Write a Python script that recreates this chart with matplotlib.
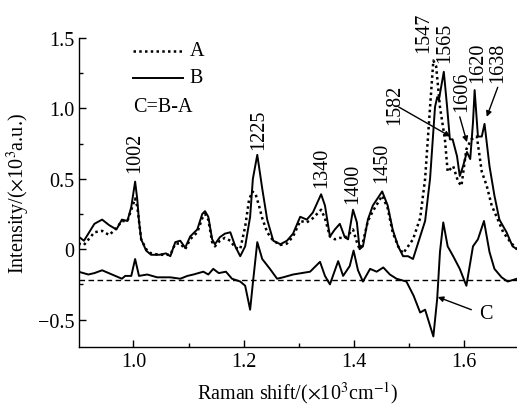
import numpy as np
import matplotlib
matplotlib.use("Agg")
import matplotlib.pyplot as plt
from matplotlib.ticker import FixedLocator, FuncFormatter

plt.rcParams['font.family'] = ['Liberation Serif', 'DejaVu Serif']
plt.rcParams['mathtext.fontset'] = 'stix'

# Raman shift (x10^3 cm^-1) and intensity for spectrum A (dotted)
x_a = [0.900, 0.910, 0.929, 0.943, 0.956, 0.969, 0.979, 0.989, 0.996, 1.003,
       1.007, 1.014, 1.023, 1.032, 1.047, 1.059, 1.067, 1.076, 1.085, 1.094,
       1.103, 1.116, 1.125, 1.130, 1.136, 1.143, 1.148, 1.157, 1.166, 1.176,
       1.185, 1.194, 1.203, 1.210, 1.216, 1.222, 1.228, 1.234, 1.243, 1.254,
       1.267, 1.279, 1.290, 1.303, 1.315, 1.326, 1.341, 1.348, 1.357, 1.366,
       1.375, 1.384, 1.390, 1.399, 1.406, 1.411, 1.417, 1.426, 1.435, 1.452,
       1.462, 1.471, 1.481, 1.490, 1.499, 1.508, 1.521, 1.530, 1.539, 1.545,
       1.550, 1.557, 1.566, 1.571, 1.581, 1.590, 1.596, 1.605, 1.614, 1.624,
       1.633, 1.642, 1.651, 1.660, 1.672, 1.685, 1.697]
y_a = [0.04, 0.03, 0.12, 0.13, 0.10, 0.15, 0.20, 0.20, 0.28, 0.36,
       0.30, 0.07, 0.00, -0.03, -0.04, -0.04, -0.04, 0.04, 0.04, 0.00,
       0.07, 0.12, 0.22, 0.25, 0.21, 0.05, 0.02, 0.06, 0.08, 0.06,
       0.01, 0.00, 0.16, 0.35, 0.41, 0.39, 0.31, 0.22, 0.12, 0.06,
       0.03, 0.04, 0.09, 0.20, 0.19, 0.22, 0.28, 0.22, 0.09, 0.07,
       0.08, 0.08, 0.10, 0.14, 0.05, 0.00, 0.05, 0.20, 0.27, 0.38,
       0.29, 0.12, 0.02, -0.03, 0.02, 0.07, 0.22, 0.50, 1.01, 1.34,
       1.30, 1.01, 0.78, 0.55, 0.59, 0.48, 0.45, 0.71, 0.78, 0.80,
       0.55, 0.45, 0.31, 0.23, 0.12, 0.05, 0.00]

# spectrum B (solid)
x_b = [0.900, 0.910, 0.929, 0.943, 0.956, 0.969, 0.979, 0.989, 0.996, 1.003,
       1.007, 1.010, 1.014, 1.023, 1.032, 1.047, 1.059, 1.067, 1.076, 1.085,
       1.094, 1.103, 1.116, 1.125, 1.130, 1.136, 1.143, 1.148, 1.157, 1.166,
       1.176, 1.185, 1.194, 1.203, 1.212, 1.217, 1.225, 1.234, 1.243, 1.254,
       1.267, 1.279, 1.290, 1.303, 1.315, 1.326, 1.341, 1.348, 1.357, 1.366,
       1.375, 1.384, 1.390, 1.399, 1.406, 1.411, 1.417, 1.426, 1.435, 1.452,
       1.462, 1.471, 1.481, 1.490, 1.499, 1.508, 1.521, 1.530, 1.539, 1.548,
       1.552, 1.555, 1.564, 1.570, 1.575, 1.580, 1.588, 1.593, 1.599, 1.606,
       1.612, 1.617, 1.620, 1.626, 1.633, 1.638, 1.647, 1.656, 1.665, 1.678,
       1.689, 1.697]
y_b = [0.09, 0.06, 0.18, 0.21, 0.17, 0.14, 0.21, 0.20, 0.30, 0.48,
       0.35, 0.20, 0.07, -0.01, -0.04, -0.04, -0.03, -0.05, 0.05, 0.06,
       0.01, 0.09, 0.14, 0.25, 0.27, 0.23, 0.07, 0.035, 0.085, 0.11,
       0.12, 0.02, -0.05, 0.02, 0.23, 0.50, 0.67, 0.43, 0.21, 0.06,
       0.035, 0.06, 0.11, 0.23, 0.21, 0.26, 0.39, 0.31, 0.09, 0.14,
       0.18, 0.085, 0.07, 0.28, 0.19, 0.00, 0.02, 0.21, 0.31, 0.41,
       0.31, 0.14, 0.02, -0.05, -0.05, -0.07, 0.09, 0.20, 0.50, 1.01,
       1.08, 1.06, 1.26, 1.01, 0.78, 0.78, 0.66, 0.52, 0.59, 0.69,
       0.64, 0.90, 1.13, 0.80, 0.80, 0.89, 0.59, 0.38, 0.21, 0.12,
       0.02, 0.00]

# difference spectrum C = B - A, drawn offset onto the dashed baseline
x_c = [0.900, 0.918, 0.929, 0.943, 0.961, 0.979, 0.985, 0.996, 1.003, 1.010,
       1.025, 1.043, 1.067, 1.085, 1.098, 1.109, 1.127, 1.136, 1.145, 1.155,
       1.168, 1.179, 1.194, 1.203, 1.212, 1.217, 1.225, 1.234, 1.248, 1.261,
       1.272, 1.290, 1.321, 1.339, 1.348, 1.357, 1.372, 1.381, 1.393, 1.400,
       1.408, 1.417, 1.430, 1.442, 1.454, 1.466, 1.478, 1.496, 1.509, 1.521,
       1.530, 1.545, 1.552, 1.557, 1.563, 1.571, 1.581, 1.593, 1.605, 1.617,
       1.626, 1.637, 1.647, 1.656, 1.669, 1.680, 1.697]
y_c = [-0.16, -0.18, -0.17, -0.15, -0.18, -0.21, -0.19, -0.19, -0.07, -0.19,
       -0.18, -0.20, -0.20, -0.21, -0.19, -0.18, -0.16, -0.18, -0.14, -0.17,
       -0.16, -0.21, -0.23, -0.26, -0.43, -0.24, 0.05, -0.07, -0.14, -0.21,
       -0.20, -0.18, -0.16, -0.09, -0.19, -0.25, -0.085, -0.19, -0.12, -0.01,
       -0.15, -0.23, -0.14, -0.16, -0.13, -0.18, -0.21, -0.23, -0.33, -0.45,
       -0.43, -0.62, -0.35, -0.02, 0.19, 0.02, -0.05, -0.14, -0.26, 0.02,
       0.07, 0.20, -0.02, -0.14, -0.20, -0.23, -0.21]
c_zero = -0.22

# peak labels: (text, x, y of label bottom)
peak_labels = [("1002", 1.003, 0.55), ("1225", 1.227, 0.71), ("1340", 1.342, 0.44),
               ("1400", 1.399, 0.33), ("1450", 1.451, 0.475), ("1547", 1.527, 1.40),
               ("1565", 1.566, 1.33), ("1582", 1.475, 0.89), ("1606", 1.597, 0.98),
               ("1620", 1.626, 1.19), ("1638", 1.662, 1.19)]
# arrows: (tail, head)
arrows = [((1.482, 1.01), (1.576, 0.80)),
          ((1.593, 0.94), (1.606, 0.76)),
          ((1.662, 1.15), (1.642, 0.94)),
          ((1.614, -0.43), (1.553, -0.34))]

dotted = (0, (1.0, 1.3))

fig = plt.figure(figsize=(5.17, 4.06), dpi=100)
ax = fig.add_axes([79 / 517, 58 / 406, 438 / 517, 309 / 406])

ax.axhline(c_zero, color='black', lw=1.0, ls=(0, (4, 2.5)))
ax.plot(x_a, y_a, color='black', lw=1.8, ls=dotted)
ax.plot(x_b, y_b, color='black', lw=1.4)
ax.plot(x_c, y_c, color='black', lw=1.4)

fs = 14.5
for txt, x, y in peak_labels:
    ax.text(x, y, txt, rotation=90, ha='center', va='bottom', fontsize=fs)
for tail, head in arrows:
    ax.annotate('', xy=head, xytext=tail,
                arrowprops=dict(arrowstyle='-|>', color='black', lw=1.0,
                                mutation_scale=8, shrinkA=0, shrinkB=0))
ax.text(1.628, -0.46, "C", ha='left', va='center', fontsize=fs)

# legend drawn in axes fraction
ax.plot([0.123, 0.237], [0.958, 0.958], transform=ax.transAxes, color='black',
        lw=1.8, ls=dotted)
ax.plot([0.123, 0.237], [0.871, 0.871], transform=ax.transAxes, color='black', lw=1.4)
ax.text(0.252, 0.958, "A", transform=ax.transAxes, va='center', fontsize=fs)
ax.text(0.252, 0.871, "B", transform=ax.transAxes, va='center', fontsize=fs)
ax.text(0.123, 0.777, "C=B-A", transform=ax.transAxes, va='center', fontsize=fs)

ax.set_xlim(0.901, 1.697)
ax.set_ylim(-0.695, 1.5)
ax.xaxis.set_major_locator(FixedLocator([1.0, 1.2, 1.4, 1.6]))
ax.xaxis.set_minor_locator(FixedLocator([1.1, 1.3, 1.5]))
ax.yaxis.set_major_locator(FixedLocator([-0.5, 0, 0.5, 1.0, 1.5]))
ax.yaxis.set_minor_locator(FixedLocator([-0.25, 0.25, 0.75, 1.25]))
ax.xaxis.set_major_formatter(FuncFormatter(lambda v, p: f"{v:.1f}"))
ax.yaxis.set_major_formatter(FuncFormatter(
    lambda v, p: "0" if abs(v) < 1e-9 else f"{v:.1f}".replace("-", "\u2212")))
ax.tick_params(which='both', direction='in', labelsize=fs, width=1.0)
ax.tick_params(which='major', length=5)
ax.tick_params(which='minor', length=3)
ax.spines['top'].set_visible(False)
ax.spines['right'].set_visible(False)
for s in ('left', 'bottom'):
    ax.spines[s].set_linewidth(1.0)

ax.set_xlabel(r"Raman shift/($\times$10$^3$cm$^{-1}$)", fontsize=fs, labelpad=6)
ax.set_ylabel(r"Intensity/($\times$10$^3$a.u.)", fontsize=fs, labelpad=4)

fig.savefig("out.png", dpi=100)
